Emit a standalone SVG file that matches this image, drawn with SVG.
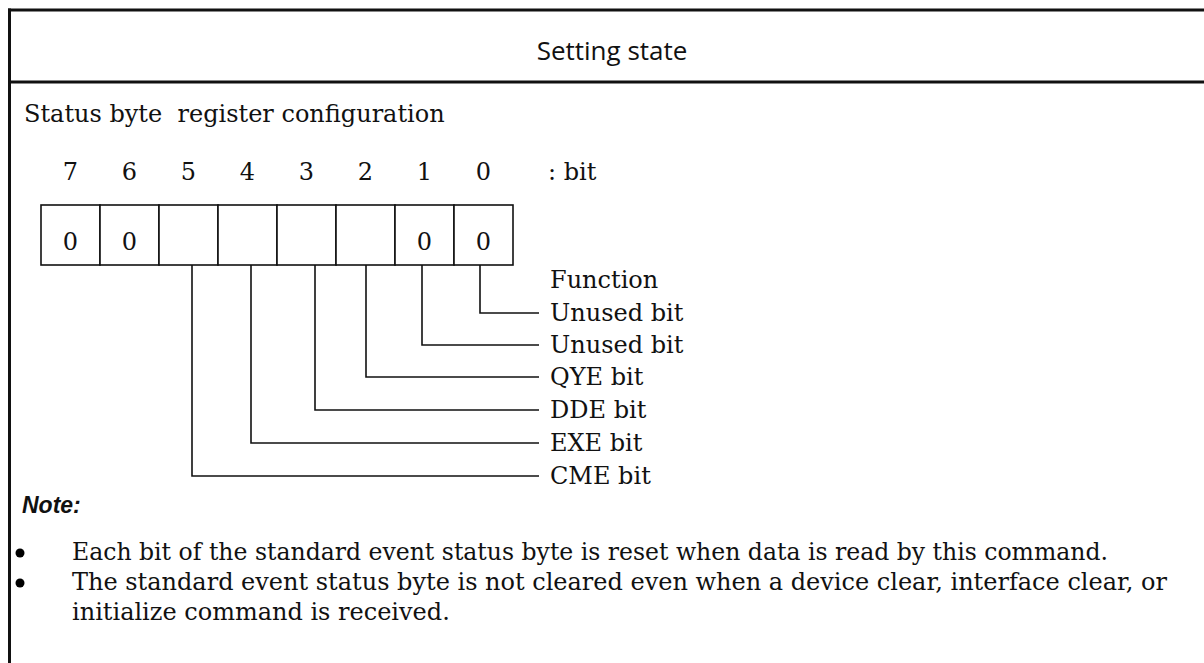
<svg xmlns="http://www.w3.org/2000/svg" width="1204" height="663" viewBox="0 0 1204 663">
<style>
.frame{stroke:#111;stroke-width:3;fill:none}
.cell{stroke:#111;stroke-width:1.6;fill:#fff}
.conn{stroke:#111;stroke-width:1.6;fill:none}
.serif{font-family:"DejaVu Serif","Liberation Serif",serif;font-size:24px;fill:#111}
.body{font-family:"DejaVu Serif","Liberation Serif",serif;font-size:24px;fill:#111}
.title{font-family:"Open Sans","Noto Sans",sans-serif;font-size:26px;fill:#111}
.note{font-family:"Liberation Sans",Arial,sans-serif;font-size:23px;font-weight:bold;font-style:italic;fill:#111}
.mid{text-anchor:middle}
</style>
<rect width="1204" height="663" fill="#fff"/>
<g id="frame">
<line class="frame" x1="8" y1="10" x2="1204" y2="10"/>
<line class="frame" x1="8" y1="82" x2="1204" y2="82"/>
<line class="frame" x1="9.5" y1="8.5" x2="9.5" y2="663"/>
</g>
<g id="header">
<text class="title mid" x="612" y="60">Setting state</text>
</g>
<g id="caption">
<text class="serif" x="24" y="122" style="white-space:pre">Status byte  register configuration</text>
</g>
<g id="bit-numbers">
<text class="serif mid" x="70.5" y="180">7</text>
<text class="serif mid" x="129.5" y="180">6</text>
<text class="serif mid" x="188.5" y="180">5</text>
<text class="serif mid" x="247.5" y="180">4</text>
<text class="serif mid" x="306.5" y="180">3</text>
<text class="serif mid" x="365.5" y="180">2</text>
<text class="serif mid" x="424.5" y="180">1</text>
<text class="serif mid" x="483.5" y="180">0</text>
<text class="serif" x="548" y="180">: bit</text>
</g>
<g id="register">
<rect class="cell" x="41" y="205" width="59" height="60"/>
<rect class="cell" x="100" y="205" width="59" height="60"/>
<rect class="cell" x="159" y="205" width="59" height="60"/>
<rect class="cell" x="218" y="205" width="59" height="60"/>
<rect class="cell" x="277" y="205" width="59" height="60"/>
<rect class="cell" x="336" y="205" width="59" height="60"/>
<rect class="cell" x="395" y="205" width="59" height="60"/>
<rect class="cell" x="454" y="205" width="59" height="60"/>
<text class="serif mid" x="70.5" y="250">0</text>
<text class="serif mid" x="129.5" y="250">0</text>
<text class="serif mid" x="424.5" y="250">0</text>
<text class="serif mid" x="483.5" y="250">0</text>
</g>
<g id="connectors">
<polyline class="conn" points="480,265 480,313 539,313"/>
<polyline class="conn" points="422,265 422,345 539,345"/>
<polyline class="conn" points="366,265 366,377 539,377"/>
<polyline class="conn" points="315,265 315,410 539,410"/>
<polyline class="conn" points="251,265 251,443 539,443"/>
<polyline class="conn" points="192,265 192,476 539,476"/>
</g>
<g id="labels">
<text class="serif" x="550" y="288">Function</text>
<text class="serif" x="550" y="321">Unused bit</text>
<text class="serif" x="550" y="353">Unused bit</text>
<text class="serif" x="550" y="385">QYE bit</text>
<text class="serif" x="550" y="418">DDE bit</text>
<text class="serif" x="550" y="451">EXE bit</text>
<text class="serif" x="550" y="484">CME bit</text>
</g>
<g id="notes">
<text class="note" x="22" y="513">Note:</text>
<circle cx="20" cy="553" r="4.5"/>
<text class="body" x="72" y="560" textLength="1036" lengthAdjust="spacingAndGlyphs">Each bit of the standard event status byte is reset when data is read by this command.</text>
<circle cx="20" cy="583" r="4.5"/>
<text class="body" x="72" y="590" textLength="1095" lengthAdjust="spacingAndGlyphs">The standard event status byte is not cleared even when a device clear, interface clear, or</text>
<text class="body" x="72" y="620">initialize command is received.</text>
</g>
</svg>
